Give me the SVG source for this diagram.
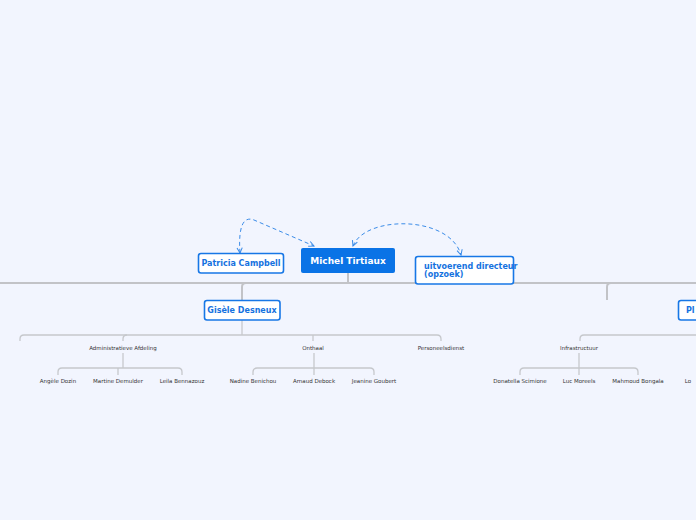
<svg xmlns="http://www.w3.org/2000/svg" width="696" height="520" viewBox="0 0 696 520">
<defs>
<marker id="ah" viewBox="0 0 8 8" refX="7" refY="4" markerWidth="7" markerHeight="7" orient="auto-start-reverse"><path d="M1,1 L7,4 L1,7" fill="none" stroke="#3b8ce8" stroke-width="1.2"/></marker>
</defs>
<style>
.t{stroke:#c6c8cc;stroke-width:1.3;fill:none}
.m{stroke:#c2c3c7;stroke-width:2;fill:none}
.d{stroke:#3b8ce8;stroke-width:1;fill:none;stroke-dasharray:4 3}
.b{fill:#fff;stroke:#1777e6;stroke-width:1.6}
.bt{font-family:Verdana,"DejaVu Sans",sans-serif;font-weight:bold;font-size:8px;fill:#1572e0}
.s{font-family:"DejaVu Sans",sans-serif;font-size:5.5px;fill:#333;text-anchor:middle}
</style>
<rect width="696" height="520" fill="#f2f5fe"/>
<g id="connectors">
<path class="m" d="M0,283 H696"/>
<path class="m" d="M348,273 V283"/>
<path class="m" d="M242,300 V287 Q242,283 246,283"/>
<path class="m" d="M607,300 V287 Q607,283 611,283"/>
<path class="t" d="M242,320 V335"/>
<path class="t" d="M20,341 V339 Q20,335 24,335 H437 Q441,335 441,339 V341"/>
<path class="t" d="M123,341 V339 Q123,335 127,335"/>
<path class="t" d="M313,341 V335"/>
<path class="t" d="M123,353 V368"/>
<path class="t" d="M58,375 V372 Q58,368 62,368 H178 Q182,368 182,372 V375 M118,375 V368"/>
<path class="t" d="M314,353 V375 M253,375 V372 Q253,368 257,368 H370 Q374,368 374,372 V375"/>
<path class="t" d="M580,341 V339 Q580,335 584,335 H696"/>
<path class="t" d="M579,353 V375 M520,375 V372 Q520,368 524,368 H634 Q638,368 638,372 V375"/>
<path class="d" marker-start="url(#ah)" marker-end="url(#ah)" d="M240,253 C238,225 244,216 254,220 L314,246"/>
<path class="d" marker-start="url(#ah)" marker-end="url(#ah)" d="M353,246 C365,215 450,215 461,255"/>
</g>
<g id="n-main"><rect x="301" y="248" width="94" height="25" rx="2" fill="#0a73e6"/><text x="348" y="264" text-anchor="middle" font-family="Verdana,'DejaVu Sans',sans-serif" font-weight="bold" font-size="9" fill="#fff">Michel Tirtiaux</text></g>
<g id="n-patricia"><rect class="b" x="198.5" y="253.5" width="85" height="19.5" rx="2.5"/><text class="bt" x="241" y="266" text-anchor="middle">Patricia Campbell</text></g>
<g id="n-uitvoerend"><rect class="b" x="415.5" y="256.5" width="98" height="27.5" rx="2.5"/><text class="bt" x="424" y="269">uitvoerend directeur</text><text class="bt" x="424" y="277">(opzoek)</text></g>
<g id="n-gisele"><rect class="b" x="204.5" y="300.5" width="75.5" height="19.5" rx="2.5"/><text class="bt" x="242" y="313" text-anchor="middle">Gisèle Desneux</text></g>
<g id="n-pl"><rect class="b" x="678.5" y="300.5" width="30" height="19.5" rx="2.5"/><text class="bt" x="686" y="313">Pl</text></g>
<g id="n-labels">
<text class="s" x="123" y="350">Administratieve Afdeling</text>
<text class="s" x="313" y="350">Onthaal</text>
<text class="s" x="441" y="350">Personeelsdienst</text>
<text class="s" x="579" y="350">Infrastructuur</text>
<text class="s" x="58" y="383">Angèle Dozin</text>
<text class="s" x="118" y="383">Martine Demulder</text>
<text class="s" x="182" y="383">Leila Bennazouz</text>
<text class="s" x="253" y="383">Nadine Benichou</text>
<text class="s" x="314" y="383">Arnaud Debock</text>
<text class="s" x="374" y="383">Jeanine Goubert</text>
<text class="s" x="520" y="383">Donatella Scimione</text>
<text class="s" x="579" y="383">Luc Moreels</text>
<text class="s" x="638" y="383">Mahmoud Bongala</text>
<text class="s" x="688" y="383" text-anchor="start">Lo</text>
</g>
</svg>
